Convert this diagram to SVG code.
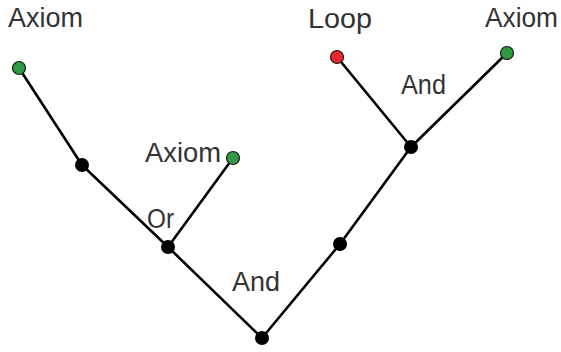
<svg xmlns="http://www.w3.org/2000/svg" width="561" height="352" viewBox="0 0 561 352">
<style>
text{font-family:"Liberation Sans",Arial,sans-serif;font-size:27px;fill:#333}
.e{stroke:#000;stroke-width:2.6;fill:none;stroke-linecap:round}
.b{fill:#000}
.g{fill:#2f9a42;stroke:#1a1a1a;stroke-width:1.2}
.r{fill:#e8262b;stroke:#1a1a1a;stroke-width:1.2}
</style>
<rect width="561" height="352" fill="#fff"/>
<g id="connectors">
<line class="e" x1="19" y1="68" x2="82" y2="165"/>
<line class="e" x1="82" y1="165" x2="168" y2="247"/>
<line class="e" x1="168" y1="247" x2="233" y2="158"/>
<line class="e" x1="168" y1="247" x2="262" y2="338"/>
<line class="e" x1="262" y1="338" x2="340" y2="244"/>
<line class="e" x1="340" y1="244" x2="411" y2="147"/>
<line class="e" x1="411" y1="147" x2="337" y2="57"/>
<line class="e" x1="411" y1="147" x2="507" y2="53"/>
</g>
<g id="axiom1"><circle class="g" cx="19" cy="68" r="6.5"/><text x="8" y="27" textLength="75" lengthAdjust="spacingAndGlyphs">Axiom</text></g>
<g id="n1"><circle class="b" cx="82" cy="165" r="7"/></g>
<g id="or"><circle class="b" cx="168" cy="247" r="7"/><text x="147" y="228" textLength="27" lengthAdjust="spacingAndGlyphs">Or</text></g>
<g id="axiom2"><circle class="g" cx="233" cy="158" r="6.5"/><text x="145" y="162" textLength="76" lengthAdjust="spacingAndGlyphs">Axiom</text></g>
<g id="and1"><circle class="b" cx="262" cy="338" r="7"/><text x="232" y="291" textLength="48" lengthAdjust="spacingAndGlyphs">And</text></g>
<g id="n2"><circle class="b" cx="340" cy="244" r="7"/></g>
<g id="and2"><circle class="b" cx="411" cy="147" r="7"/><text x="401" y="94" textLength="45" lengthAdjust="spacingAndGlyphs">And</text></g>
<g id="loop"><circle class="r" cx="337" cy="57" r="6.5"/><text x="308" y="28" textLength="64" lengthAdjust="spacingAndGlyphs">Loop</text></g>
<g id="axiom3"><circle class="g" cx="507" cy="53" r="6.5"/><text x="485" y="27" textLength="73" lengthAdjust="spacingAndGlyphs">Axiom</text></g>
</svg>
